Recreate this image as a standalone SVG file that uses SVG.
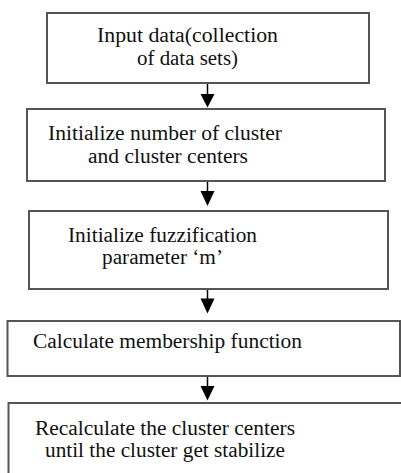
<svg xmlns="http://www.w3.org/2000/svg" width="401" height="473" viewBox="0 0 401 473">
<defs>
<style>
.box{fill:#fff;stroke:#555;stroke-width:2}
.t{font-family:"Liberation Serif","Times New Roman",serif;font-size:20.5px;fill:#111}
.c{stroke:#000;stroke-width:1.5;fill:none}
.h{fill:#000}
</style>
</defs>
<rect width="401" height="473" fill="#fff"/>
<g id="connectors">
<line class="c" x1="207.5" y1="83" x2="207.5" y2="97"/>
<path class="h" d="M200.5,94 L214.5,94 L207.5,107.5 Z"/>
<line class="c" x1="207.5" y1="181" x2="207.5" y2="195"/>
<path class="h" d="M200.5,191 L214.5,191 L207.5,206 Z"/>
<line class="c" x1="207.5" y1="289" x2="207.5" y2="302"/>
<path class="h" d="M200.5,298.5 L214.5,298.5 L207.5,313.5 Z"/>
<line class="c" x1="207.5" y1="376" x2="207.5" y2="390"/>
<path class="h" d="M200.5,386 L214.5,386 L207.5,400.5 Z"/>
</g>
<g id="n1">
<rect class="box" x="47" y="13" width="322" height="70"/>
<text class="t" x="97" y="41.7" textLength="181" lengthAdjust="spacingAndGlyphs">Input data(collection</text>
<text class="t" x="137" y="65" textLength="101" lengthAdjust="spacingAndGlyphs">of data sets)</text>
</g>
<g id="n2">
<rect class="box" x="27" y="109" width="358" height="72"/>
<text class="t" x="48" y="140" textLength="234" lengthAdjust="spacingAndGlyphs">Initialize number of cluster</text>
<text class="t" x="88" y="163" textLength="160" lengthAdjust="spacingAndGlyphs">and cluster centers</text>
</g>
<g id="n3">
<rect class="box" x="29" y="211" width="359" height="78"/>
<text class="t" x="68" y="241.5" textLength="189" lengthAdjust="spacingAndGlyphs">Initialize fuzzification</text>
<text class="t" x="102" y="264" textLength="121" lengthAdjust="spacingAndGlyphs">parameter ‘m’</text>
</g>
<g id="n4">
<rect class="box" x="7.5" y="321" width="392.5" height="55"/>
<text class="t" x="33" y="348" textLength="269" lengthAdjust="spacingAndGlyphs">Calculate membership function</text>
</g>
<g id="n5">
<rect class="box" x="8.5" y="403" width="400" height="80"/>
<text class="t" x="35" y="435" textLength="260" lengthAdjust="spacingAndGlyphs">Recalculate the cluster centers</text>
<text class="t" x="45" y="456.5" textLength="240" lengthAdjust="spacingAndGlyphs">until the cluster get stabilize</text>
</g>
</svg>
